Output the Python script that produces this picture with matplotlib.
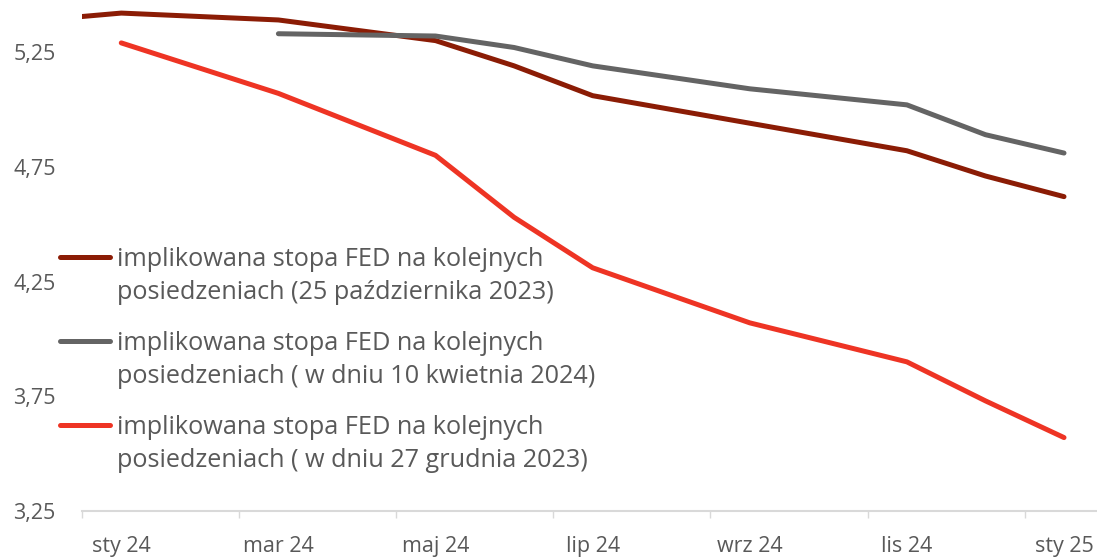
import matplotlib.pyplot as plt
from matplotlib.lines import Line2D

plt.rcParams['font.family'] = ['Open Sans', 'DejaVu Sans']

# months counted from January 2024 (0 = sty 24)
month_labels = ['sty 24', 'mar 24', 'maj 24', 'lip 24', 'wrz 24', 'lis 24', 'sty 25']
label_pos = [0, 2, 4, 6, 8, 10, 12]

# implied FED rate on consecutive FOMC meetings
oct23_months = [-1, 0, 2, 4, 5, 6, 8, 10, 11, 12]
oct23_rate = [5.39, 5.42, 5.39, 5.30, 5.19, 5.06, 4.94, 4.82, 4.71, 4.62]

apr24_months = [2, 4, 5, 6, 8, 10, 11, 12]
apr24_rate = [5.33, 5.32, 5.27, 5.19, 5.09, 5.02, 4.89, 4.81]

dec23_months = [0, 2, 4, 5, 6, 8, 10, 11, 12]
dec23_rate = [5.29, 5.07, 4.80, 4.53, 4.31, 4.07, 3.90, 3.73, 3.57]

labels = [
    'implikowana stopa FED na kolejnych\nposiedzeniach (25 października 2023)',
    'implikowana stopa FED na kolejnych\nposiedzeniach ( w dniu 10 kwietnia 2024)',
    'implikowana stopa FED na kolejnych\nposiedzeniach ( w dniu 27 grudnia 2023)',
]
colors = ['#8B1C05', '#646464', '#EE3424']
text_color = '#595959'

fig = plt.figure(figsize=(10.97, 5.6), dpi=100)
ax = fig.add_axes([82 / 1097, 49 / 560, 1 - 82 / 1097, 511 / 560])

series = [(oct23_months, oct23_rate), (apr24_months, apr24_rate), (dec23_months, dec23_rate)]
for (xs, ys), c in zip(series, colors):
    ax.plot(xs, ys, color=c, lw=3.6, solid_capstyle='round', solid_joinstyle='round')

ax.set_xlim(-0.5, 12.42)
ax.set_ylim(3.25, 5.477)

ax.set_xticks([i - 0.5 for i in range(0, 13, 2)])
ax.set_xticklabels([])
ax.set_xticks(label_pos, minor=True)
ax.set_xticklabels(month_labels, minor=True)
ax.tick_params(axis='x', which='major', length=5, width=1, color='#d9d9d9')
ax.tick_params(axis='x', which='minor', length=0, pad=18, labelsize=15.5, labelcolor=text_color)

ax.set_yticks([3.25, 3.75, 4.25, 4.75, 5.25])
ax.set_yticklabels(['3,25', '3,75', '4,25', '4,75', '5,25'])
ax.tick_params(axis='y', length=0, pad=19, labelsize=15.5, labelcolor=text_color)

for side in ['top', 'right', 'left']:
    ax.spines[side].set_visible(False)
ax.spines['bottom'].set_color('#d9d9d9')
ax.spines['bottom'].set_linewidth(1.5)

# legend drawn by hand: handle next to the first line of each label
W, H = 1097, 560
for i, (lab, c) in enumerate(zip(labels, colors)):
    y = 257 + i * 84
    fig.add_artist(Line2D([60 / W, 110 / W], [1 - y / H, 1 - y / H], color=c, lw=3.6,
                          solid_capstyle='round'))
    fig.text(117 / W, 1 - (y - 10) / H, lab, fontsize=18.2, color=text_color,
             va='top', ha='left', linespacing=1.4)

fig.savefig('out.png', dpi=100)
